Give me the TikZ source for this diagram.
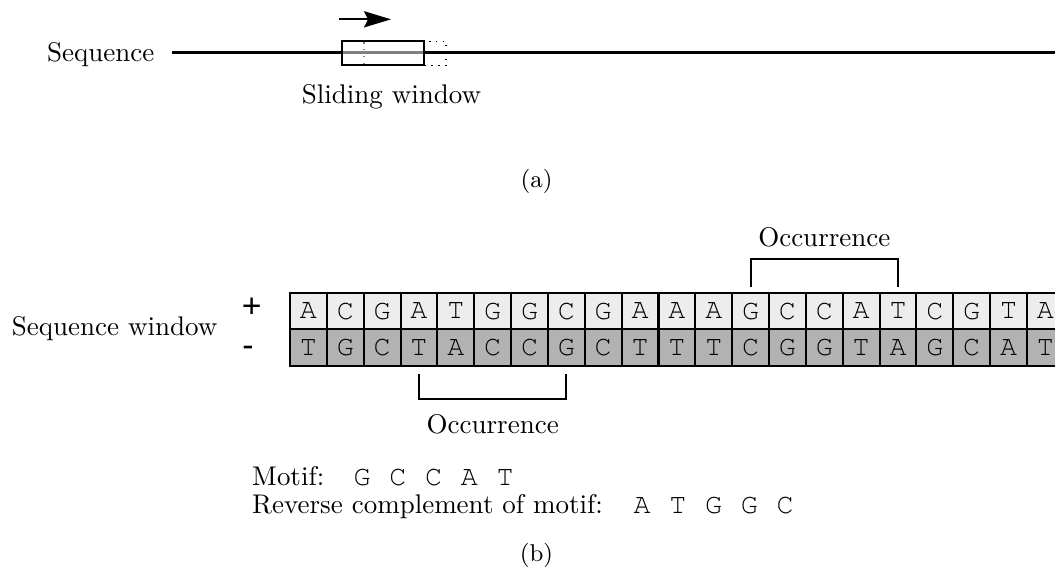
\documentclass[tikz,border=0pt]{standalone}
\usepackage{fontspec}
\newfontfamily\signfont{Liberation Sans}
\usetikzlibrary{arrows.meta,calc}
\newcommand\mlet[1]{\makebox[13.26pt][l]{#1}}
\newcommand\courierfont{\fontencoding{T1}\fontfamily{pcr}\fontseries{m}\fontshape{n}\fontsize{10.5}{12}\selectfont}
\begin{document}
\begin{tikzpicture}[x=0.3704pt,y=-0.3704pt,
  cellp/.style={draw=black, line width=0.75pt, fill=black!7, minimum width=13.65pt,
    minimum height=13.52pt, inner sep=0pt, font=\courierfont},
  cellm/.style={cellp, fill=black!30},
  lbl/.style={inner sep=0pt, font=\normalsize},
  captext/.style={inner sep=0pt, font=\small},
  mono/.style={inner sep=0pt, font=\courierfont},
  sign/.style={inner sep=0pt, font=\signfont\fontsize{12.5}{15}\selectfont},
  bracket/.style={line width=0.75pt},
  winbox/.style={line width=0.5pt, minimum width=30.4pt, minimum height=8.9pt, inner sep=0pt}]
\clip (0,0) rectangle (1055,578);

% ---------------- (a)
\node[lbl, anchor=base east] (seq) at (155,61) {Sequence};
\coordinate (seqstart) at (172,52.5);
\coordinate (seqend) at (1060,52.5);
\draw[line width=0.8pt] (seqstart) -- (seqend);
\node[winbox, draw, dotted] (winnext) at (405,53.5) {};
\node[winbox, draw, fill=white, fill opacity=0.5] (win) at (383,53) {};
\coordinate (arrs) at (339,19.3);
\coordinate (arre) at (391,19.3);
\draw[line width=0.7pt, -{Stealth[length=10pt, width=6pt, inset=1.5pt]}] (arrs) -- (arre);
\node[lbl, anchor=base] (slw) at (391.5,103) {Sliding window};
\node[captext, anchor=base] (capa) at (536.5,187) {(a)};

% ---------------- (b)
\foreach \l [count=\i] in {A,C,G,A,T,G,G,C,G,A,A,A,G,C,C,A,T,C,G,T,A}
  \node[cellp] (p\i) at ({290+36.85*(\i-0.5)},311) {\l};
\foreach \l [count=\i] in {T,G,C,T,A,C,C,G,C,T,T,T,C,G,G,T,A,G,C,A,T}
  \node[cellm] (m\i) at ({290+36.85*(\i-0.5)},347.5) {\l};

\node[sign] (plus) at (251.7,308) {+};
\node[sign] (minus) at (248,351.7) {-};
\node[lbl, anchor=base east] (sw) at (218,335) {Sequence window};

% top bracket
\draw[bracket] ($(p13.north)+(0,-5)$) -- ($(p13.north)+(0,-32.5)$) -| ($(p17.north)+(0,-5)$);
\node[lbl, anchor=base] (occ1) at ($(p13.north)!0.5!(p17.north)+(0,-45.7)$) {Occurrence};
% bottom bracket
\draw[bracket] ($(m4.south)+(0,7)$) -- ($(m4.south)+(0,32.6)$) -| ($(m8.south)+(0,7)$);
\node[lbl, anchor=base] (occ2) at ($(m4.south)!0.5!(m8.south)+(0,66.3)$) {Occurrence};

% motif lines
\node[lbl, anchor=base west] (motif) at (251.7,485) {Motif:};
\node[mono, anchor=base west] (motifseq) at (353,485) {\mlet{G}\mlet{C}\mlet{C}\mlet{A}\mlet{T}};
\node[lbl, anchor=base west] (rc) at (251.7,513) {Reverse complement of motif:};
\node[mono, anchor=base west] (rcseq) at (633,513) {\mlet{A}\mlet{T}\mlet{G}\mlet{G}\mlet{C}};

\node[captext, anchor=base] (capb) at (536.5,561) {(b)};
\end{tikzpicture}
\end{document}
